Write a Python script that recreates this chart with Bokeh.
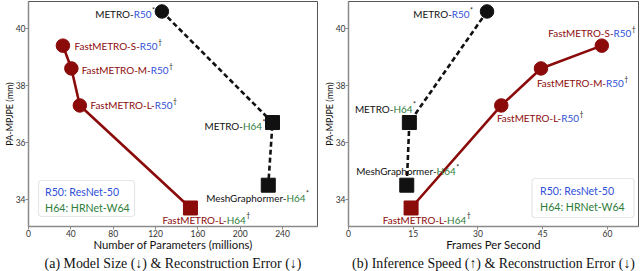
import os
import subprocess
from bokeh.plotting import figure
from bokeh.models import Range1d, FixedTicker, Title, Label, BoxAnnotation, ColumnDataSource
from bokeh.layouts import row
from bokeh.embed import file_html
from bokeh.resources import INLINE
from bokeh.core.properties import value

# ---------------- data ----------------
models = ["METRO-R50", "METRO-H64", "MeshGraphormer-H64",
          "FastMETRO-S-R50", "FastMETRO-M-R50", "FastMETRO-L-R50", "FastMETRO-L-H64"]
name_main = ["METRO-", "METRO-", "MeshGraphormer-",
             "FastMETRO-S-", "FastMETRO-M-", "FastMETRO-L-", "FastMETRO-L-"]
backbone = ["R50", "H64", "H64", "R50", "R50", "R50", "H64"]
mark = ["*", "*", "*", "\u2020", "\u2020", "\u2020", "\u2020"]
family = ["METRO", "METRO", "METRO", "Fast", "Fast", "Fast", "Fast"]
marker = ["circle", "square", "square", "circle", "circle", "circle", "square"]

params_m = [126.0, 230.5, 226.5, 32.5, 40.5, 48.5, 153.0]
fps = [32.1, 14.1, 13.5, 58.7, 44.6, 35.4, 14.5]
pa_mpjpe = [40.6, 36.7, 34.5, 39.4, 38.6, 37.3, 33.7]

x_ticks_a = [0, 40, 80, 120, 160, 200, 240]
x_ticks_b = [0, 15, 30, 45, 60]
y_ticks = [34, 36, 38, 40]

legend_lines = [("R50: ResNet-50", "R50"), ("H64: HRNet-W64", "H64")]
captions = ["(a) Model Size (\u2193) & Reconstruction Error (\u2193)",
            "(b) Inference Speed (\u2191) & Reconstruction Error (\u2193)"]

# ---------------- style ----------------
RED = "#8b0a0a"
BLUE = "#2f4fd8"
GREEN = "#2e7d3a"
BLACK = "#111111"
BB_COLOR = {"R50": BLUE, "H64": GREEN}
FAM_COLOR = {"METRO": BLACK, "Fast": RED}
SANS = "Lato"
SERIF = "Liberation Serif"
FILES = {SANS: ["Lato-Regular.ttf"], SERIF: ["LiberationSerif-Regular.ttf"]}


def font_path(name):
    wanted = FILES.get(name, [])
    for root in ("/usr/share/fonts", "/usr/local/share/fonts",
                 os.path.expanduser("~/.fonts"), os.path.expanduser("~/.local/share/fonts")):
        if not os.path.isdir(root):
            continue
        for d, _, files in os.walk(root):
            for f in files:
                if f in wanted:
                    return os.path.join(d, f)
    try:
        out = subprocess.run(["fc-match", "-f", "%{file}", name + ":style=Regular"],
                             capture_output=True, text=True, timeout=10).stdout.strip()
        return out or None
    except Exception:
        return None


_fonts = {}


def measure(text, size, fam=SANS):
    try:
        from PIL import ImageFont
        if fam not in _fonts:
            _fonts[fam] = ImageFont.truetype(font_path(fam), 100)
        return _fonts[fam].getlength(text) * size / 100.0
    except Exception:
        return 0.54 * size * len(text)


def fit(text, target, fam=SANS):
    return round(10.0 * target / measure(text, 10.0, fam), 2)


LBL = fit("FastMETRO-L-R50", 82)
SUP = round(LBL * 0.7, 2)
AXL = fit("Number of Parameters (millions)", 159)
LEG = fit("R50: ResNet-50", 74)
CAP_A = fit(captions[0], 257, SERIF)
CAP_B = fit(captions[1], 283, SERIF)

# label placement (align, dx px, dy px) relative to each point
place_a = [("right", -7, 2.5), ("right", -7, 3.5), ("center", -10.7, 12.4),
           ("left", 11.7, 0.7), ("left", 10.3, 2), ("left", 10.7, 0), ("center", 16, 11.7)]
place_b = [("right", -14, 2.3), ("right", 6.6, -14), ("center", 0.9, -14),
           ("right", 34, -12.7), ("left", -4, 14.7), ("left", -4.3, 12.9), ("center", 15.7, 11.7)]


def make_panel(xs, xr, xticks, xlabel, caption, capsize, place, legend_pos, border_right):
    p = figure(width=320, height=271, output_backend="svg", toolbar_location=None,
               x_range=Range1d(*xr), y_range=Range1d(33.05, 40.95),
               min_border_left=26, min_border_right=border_right,
               min_border_top=1, min_border_bottom=45)
    p.xgrid.visible = False
    p.ygrid.visible = False
    p.outline_line_color = "#555555"
    p.outline_line_width = 1
    p.background_fill_color = "white"
    p.border_fill_color = "white"
    p.xaxis.ticker = FixedTicker(ticks=xticks)
    p.yaxis.ticker = FixedTicker(ticks=y_ticks)
    for ax in (p.xaxis, p.yaxis):
        ax.axis_line_color = "#8a8a8a"
        ax.axis_line_width = 1.5
        ax.major_tick_line_color = "#8a8a8a"
        ax.major_tick_out = 3
        ax.major_tick_in = 0
        ax.minor_tick_line_color = None
        ax.major_label_text_font = SANS
        ax.major_label_text_font_size = "8.5px"
        ax.major_label_text_color = "#333333"
        ax.major_label_standoff = 0
        ax.axis_label_text_font = SANS
        ax.axis_label_text_font_style = "normal"
        ax.axis_label_text_color = "#111111"
    p.xaxis.axis_label = xlabel
    p.xaxis.axis_label_text_font_size = f"{AXL}px"
    p.xaxis.axis_label_standoff = -2
    p.yaxis.axis_label = "PA-MPJPE (mm)"
    p.yaxis.axis_label_text_font_size = "9px"
    p.yaxis.axis_label_standoff = -2

    # connecting lines
    mi = [i for i, f in enumerate(family) if f == "METRO"]
    fi = [i for i, f in enumerate(family) if f == "Fast"]
    p.line([xs[i] for i in mi], [pa_mpjpe[i] for i in mi], line_color=BLACK,
           line_width=2.6, line_dash="5 3")
    p.line([xs[i] for i in fi], [pa_mpjpe[i] for i in fi], line_color=RED, line_width=2.6)

    # markers
    src = ColumnDataSource(dict(x=xs, y=pa_mpjpe, marker=marker,
                                color=[FAM_COLOR[f] for f in family],
                                size=[13.5 if m == "circle" else 14 for m in marker]))
    p.scatter("x", "y", source=src, marker="marker", size="size",
              fill_color="color", line_color="color")

    # labels composed of colored segments
    nrm = dict(x=[], y=[], text=[], color=[], xo=[], yo=[])
    sup = dict(x=[], y=[], text=[], xo=[], yo=[])
    for i in range(len(models)):
        align, dx, dy = place[i]
        w1 = measure(name_main[i], LBL)
        w2 = measure(backbone[i], LBL)
        w3 = measure(mark[i], SUP) + 0.5
        tot = w1 + w2 + w3
        left = dx if align == "left" else (dx - tot if align == "right" else dx - tot / 2)
        for t, c, o in ((name_main[i], FAM_COLOR[family[i]], left),
                        (backbone[i], BB_COLOR[backbone[i]], left + w1)):
            nrm["x"].append(xs[i]); nrm["y"].append(pa_mpjpe[i]); nrm["text"].append(t)
            nrm["color"].append(c); nrm["xo"].append(o); nrm["yo"].append(dy)
        sup["x"].append(xs[i]); sup["y"].append(pa_mpjpe[i]); sup["text"].append(mark[i])
        sup["xo"].append(left + w1 + w2 + 0.5); sup["yo"].append(dy - 4.2)
    p.text("x", "y", text="text", source=ColumnDataSource(nrm), x_offset="xo", y_offset="yo",
           text_color="color", text_font=value(SANS), text_font_size=f"{LBL}px",
           text_align="left", text_baseline="middle")
    p.text("x", "y", text="text", source=ColumnDataSource(sup), x_offset="xo", y_offset="yo",
           text_color=BLACK, text_font=value(SANS), text_font_size=f"{SUP}px",
           text_align="left", text_baseline="middle")

    # backbone legend box
    bl, br, bb, bt, tx, ty1, ty2 = legend_pos
    p.add_layout(BoxAnnotation(left=bl, right=br, bottom=bb, top=bt,
                               left_units="screen", right_units="screen",
                               bottom_units="screen", top_units="screen",
                               fill_color="white", fill_alpha=1.0,
                               line_color="#b0b0b0", line_width=1.2, border_radius=3))
    for (txt, key), ty in zip(legend_lines, (ty1, ty2)):
        p.add_layout(Label(x=tx, y=ty, x_units="screen", y_units="screen", text=txt,
                           text_color=BB_COLOR[key], text_font=SANS,
                           text_font_size=f"{LEG}px", text_baseline="middle"))

    p.add_layout(Title(text=caption, align="center", text_font=SERIF,
                       text_font_size=f"{capsize}px", text_font_style="normal",
                       text_color="#111111", standoff=0, offset=0), "below")
    return p


pa = make_panel(params_m, (0, 273), x_ticks_a, "Number of Parameters (millions)",
                captions[0], CAP_A, place_a, (10, 106, 10, 46, 16.6, 35, 18.4), 3)
pb = make_panel(fps, (0, 67.2), x_ticks_b, "Frames Per Second",
                captions[1], CAP_B, place_b, (183.5, 285.5, 9, 48, 191.6, 35.7, 19.7), 2)

layout = row(pa, pb)
html = file_html(layout, INLINE)
html = html.replace("<head>", "<head><style>html, body {margin:0; padding:0;}</style>", 1)
open("out.html", "w").write(html)
